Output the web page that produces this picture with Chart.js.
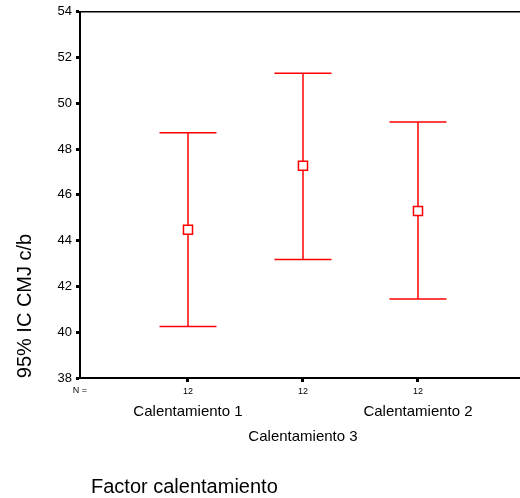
<!DOCTYPE html>
<html>
<head>
<meta charset="utf-8">
<script src="https://cdn.jsdelivr.net/npm/chart.js@4/dist/chart.umd.min.js"></script>
<style>
  html, body { margin: 0; padding: 0; background: #fff; overflow: hidden; }
  #myChart { display: block; }
</style>
</head>
<body>
<canvas id="myChart" width="520" height="498"></canvas>
<script>
// datos
var categorias = ['Calentamiento 1', 'Calentamiento 3', 'Calentamiento 2'];
var nValores = [12, 12, 12];
var medias = [44.48, 47.27, 45.30];
var limInferior = [40.25, 43.18, 41.45];
var limSuperior = [48.71, 51.32, 49.19];
var yMin = 38, yMax = 54, yPaso = 2;

var rojo = 'rgb(255,0,0)';
var fuente = '"Liberation Sans", Arial, sans-serif';

var ctx;

// textos extra: linea superior, N =, categorias, titulos
var extras = {
    id: 'extras',
    afterDraw: function (chart) {
        var c = chart.ctx;
        var area = chart.chartArea;
        var xs = chart.scales.x;
        c.save();
        c.strokeStyle = '#000';
        c.lineWidth = 1.5;
        c.beginPath();
        c.moveTo(area.left, area.top);
        c.lineTo(area.right, area.top);
        c.stroke();

        c.fillStyle = '#000';
        c.textBaseline = 'middle';
        c.textAlign = 'center';
        c.font = '9px ' + fuente;
        c.fillText('N =', 80, 391);

        c.font = '15px ' + fuente;
        for (let i = 0; i < categorias.length; i++) {
            let px = xs.getPixelForValue(i + 1);
            let py = (i % 2 === 0) ? 412 : 437;
            c.fillText(categorias[i], px, py);
        }

        c.textAlign = 'left';
        c.font = '20px ' + fuente;
        c.fillText('Factor calentamiento', 91, 487);

        c.translate(25, 306);
        c.rotate(-Math.PI / 2);
        c.textAlign = 'center';
        c.fillText('95% IC CMJ c/b', 0, 0);
        c.restore();
    }
};

document.addEventListener('DOMContentLoaded', function () {
    ctx = document.getElementById('myChart').getContext('2d');
    construirGrafica();
});

function construirGrafica() {
    let datasets = [];
    datasets.push({
        label: 'Media',
        data: medias.map(function (m, i) { return { x: i + 1, y: m }; }),
        pointStyle: 'rect',
        pointRadius: 6.4,
        pointBorderWidth: 1.5,
        pointBorderColor: rojo,
        pointBackgroundColor: '#fff',
        showLine: false
    });
    for (let i = 0; i < categorias.length; i++) {
        datasets.push({
            label: categorias[i],
            data: [{ x: i + 1, y: limInferior[i] }, { x: i + 1, y: limSuperior[i] }],
            showLine: true,
            borderColor: rojo,
            borderWidth: 1.5,
            pointStyle: 'line',
            pointRadius: 28.5,
            pointBorderColor: rojo,
            pointBorderWidth: 1.5
        });
    }

    const myChart = new Chart(ctx, {
        type: 'scatter',
        data: { datasets: datasets },
        plugins: [extras],
        options: {
            responsive: false,
            animation: false,
            layout: { autoPadding: false, padding: { top: 10, left: 0, right: 0, bottom: 0 } },
            plugins: { legend: { display: false }, tooltip: { enabled: false } },
            scales: {
                x: {
                    type: 'linear',
                    min: 0.061,
                    max: 3.887,
                    afterBuildTicks: function (scale) {
                        scale.ticks = nValores.map(function (n, i) { return { value: i + 1 }; });
                    },
                    afterFit: function (scale) { scale.height = 120; },
                    ticks: {
                        color: '#000',
                        padding: 4,
                        font: { family: fuente, size: 9 },
                        maxRotation: 0,
                        callback: function (v, i) { return String(nValores[i]); }
                    },
                    grid: { drawOnChartArea: false, tickLength: 4, tickWidth: 3, tickColor: '#000' },
                    border: { display: true, color: '#000', width: 2 }
                },
                y: {
                    min: yMin,
                    max: yMax,
                    afterFit: function (scale) { scale.width = 80; },
                    ticks: {
                        stepSize: yPaso,
                        color: '#000',
                        padding: 4,
                        font: { family: fuente, size: 13 }
                    },
                    grid: { drawOnChartArea: false, tickLength: 4, tickWidth: 3, tickColor: '#000' },
                    border: { display: true, color: '#000', width: 2 }
                }
            }
        }
    });
}
</script>
</body>
</html>
